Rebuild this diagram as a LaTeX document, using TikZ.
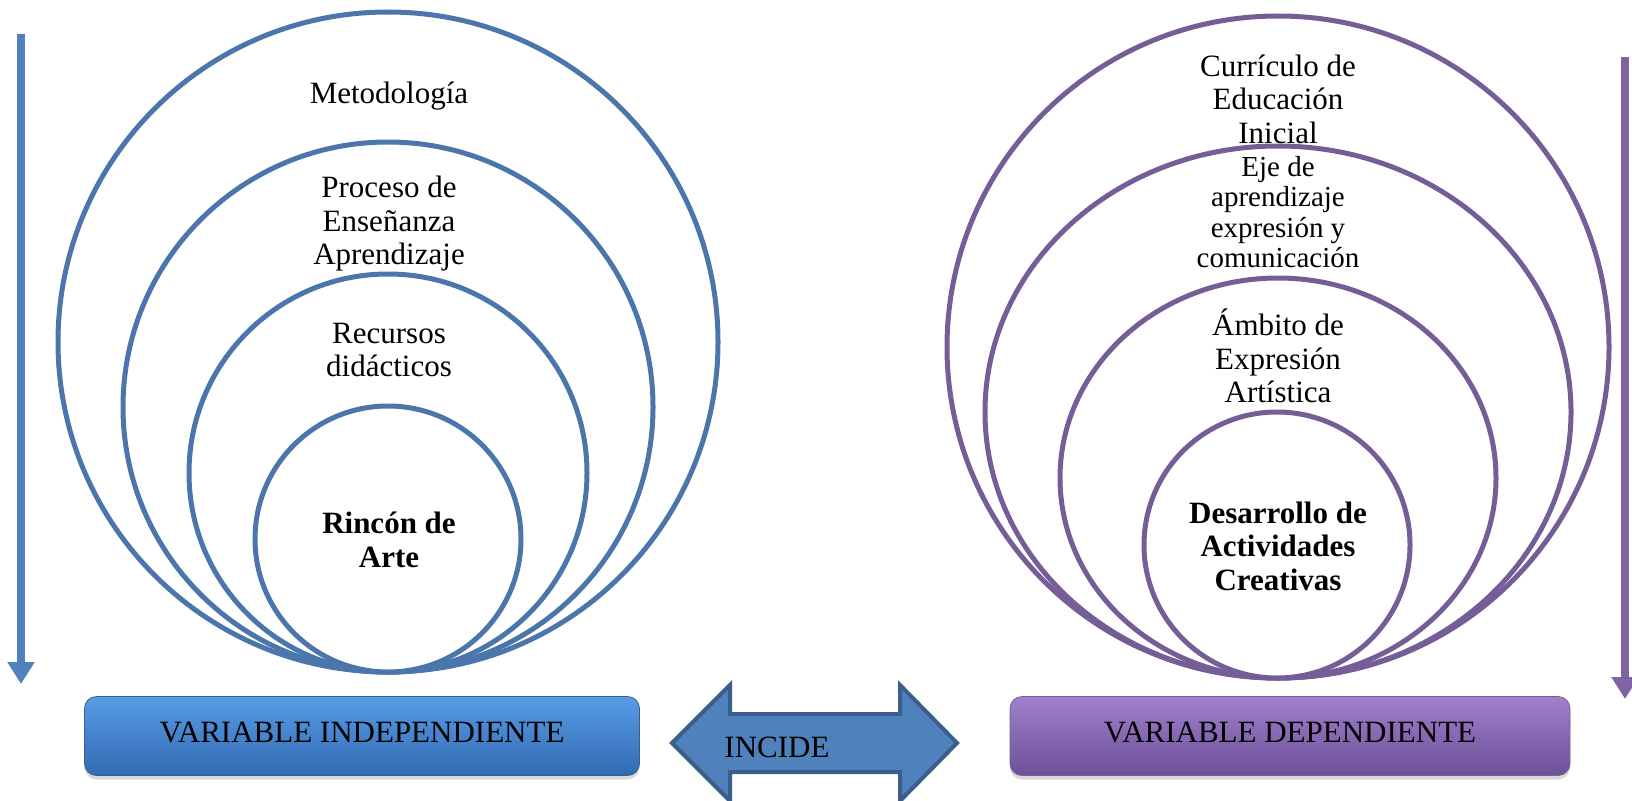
\documentclass[tikz,border=0pt]{standalone}
\usepackage{fontspec}
\setmainfont{Liberation Serif}
\usetikzlibrary{positioning,shapes.geometric,shadows,arrows.meta}

\definecolor{ringblue}{RGB}{74,118,172}
\definecolor{ringpurple}{RGB}{117,94,152}
\definecolor{blockblue}{RGB}{79,129,189}
\definecolor{blockedge}{RGB}{58,95,140}
\definecolor{sidepurple}{RGB}{128,100,162}

\tikzset{
  ring/.style={draw=#1, line width=5pt, fill=white, inner sep=0pt},
  lbl/.style={font=\fontsize{31}{33.5}\selectfont, align=center, inner sep=0pt},
  varbox/.style={rounded corners=12pt, minimum height=79pt, line width=0.8pt,
    text depth=8pt,
    drop shadow={shadow xshift=0pt, shadow yshift=-4pt, opacity=0.3},
    font=\fontsize{31}{33.5}\selectfont},
  sidearrow/.style={draw=#1, line width=8pt, -{Triangle[width=26pt,length=22pt]}},
}

\begin{document}
\begin{tikzpicture}[x=1pt, y=-1pt]
  \useasboundingbox (0,0) rectangle (1632,800);

  % side arrows, top to bottom
  \coordinate (indep_top) at (21,34);
  \coordinate (indep_end) at (21,684);
  \draw [sidearrow=blockblue] (indep_top) -- (indep_end);
  \coordinate (dep_top) at (1625,57);
  \coordinate (dep_end) at (1625,699);
  \draw [sidearrow=sidepurple] (dep_top) -- (dep_end);

  % left rings, all touching at the bottom (y=672)
  \node [ring=ringblue, circle, minimum size=660pt] (metodologia) at (388,342) {};
  \node [lbl] (metodologia_txt) at (389,96) {Metodología};
  \node [ring=ringblue, circle, minimum size=530pt] (proceso) at (388,407) {};
  \node [lbl] (proceso_txt) at (389,224) {Proceso de\\Enseñanza\\Aprendizaje};
  \node [ring=ringblue, circle, minimum size=398pt] (recursos) at (388,473) {};
  \node [lbl] (recursos_txt) at (389,350) {Recursos\\didácticos};
  \node [ring=ringblue, circle, minimum size=266pt] (rincon) at (388,539) {};
  \node [lbl, font=\fontsize{31}{33.5}\selectfont\bfseries] (rincon_txt) at (389,540) {Rincón de\\Arte};

  % right rings, all touching at the bottom (y=678)
  \node [ring=ringpurple, circle, minimum size=662pt] (curriculo) at (1278,347) {};
  \node [lbl] (curriculo_txt) at (1278,99) {Currículo de\\Educación\\Inicial};
  \node [ring=ringpurple, ellipse, minimum width=586pt, minimum height=532pt] (eje) at (1278,412) {};
  \node [lbl, font=\fontsize{29}{30.5}\selectfont] (eje_txt) at (1278,212) {Eje de\\aprendizaje\\expresión y\\comunicación};
  \node [ring=ringpurple, ellipse, minimum width=436pt, minimum height=400pt] (ambito) at (1278,478) {};
  \node [lbl] (ambito_txt) at (1278,356) {Ámbito de\\Expresión\\Artística};
  \node [ring=ringpurple, circle, minimum size=266pt] (desarrollo) at (1277,545) {};
  \node [lbl, font=\fontsize{31}{33.5}\selectfont\bfseries] (desarrollo_txt) at (1278,546) {Desarrollo de\\Actividades\\Creativas};

  % variable boxes
  \node [varbox, draw=blockedge, top color={rgb,255:red,88;green,156;blue,230},
    bottom color={rgb,255:red,50;green,106;blue,178}, minimum width=555pt] (indep) at (362,736) {VARIABLE INDEPENDIENTE};
  \node [varbox, draw=ringpurple, top color={rgb,255:red,160;green,128;blue,204},
    bottom color={rgb,255:red,108;green,80;blue,152}, minimum width=560pt] (dep) at (1290,736) {VARIABLE DEPENDIENTE};

  % double block arrow between the boxes
  \draw [fill=blockblue, draw=blockedge, line width=4pt]
    (672,743) -- ++(58,-58) -- ++(0,29) -- ++(170,0) -- ++(0,-29) -- ++(57,58)
    -- ++(-57,58) -- ++(0,-29) -- ++(-170,0) -- ++(0,29) -- cycle;
  \node [lbl] (incide) at (777,747) {INCIDE};
\end{tikzpicture}
\end{document}
